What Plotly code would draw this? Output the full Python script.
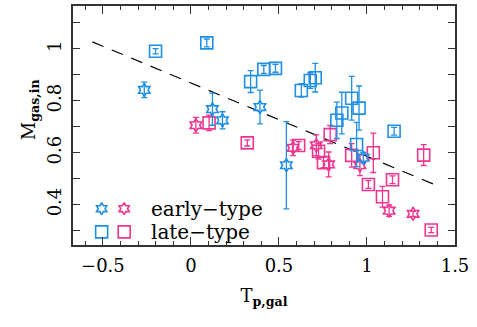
import plotly.graph_objects as go

BLUE = "#1f8fe6"
PINK = "#f0358f"

# early-type, blue (stars)
be_x = [-0.265, 0.122, 0.179, 0.392, 0.542, 0.979]
be_y = [0.842, 0.768, 0.725, 0.776, 0.552, 0.581]
be_e = [0.030, 0.062, 0.033, 0.065, 0.168, 0.020]

# late-type, blue (squares)
bl_x = [-0.201, 0.090, 0.339, 0.414, 0.480, 0.627, 0.678, 0.706, 0.829, 0.857, 0.913, 0.955, 0.941, 1.154]
bl_y = [0.991, 1.023, 0.874, 0.921, 0.925, 0.840, 0.878, 0.889, 0.725, 0.753, 0.810, 0.772, 0.632, 0.683]
bl_e = [0.010, 0.015, 0.042, 0.015, 0.015, 0.026, 0.030, 0.055, 0.070, 0.080, 0.084, 0.085, 0.085, 0.015]

# early-type, pink (stars)
pe_x = [0.028, 0.580, 0.712, 0.782, 0.960, 1.126, 1.262]
pe_y = [0.706, 0.619, 0.629, 0.555, 0.552, 0.377, 0.365]
pe_e = [0.030, 0.030, 0.040, 0.048, 0.040, 0.022, 0.010]

# late-type, pink (squares)
pl_x = [0.103, 0.320, 0.612, 0.725, 0.753, 0.791, 0.913, 1.036, 1.008, 1.145, 1.088, 1.322, 1.365]
pl_y = [0.715, 0.638, 0.628, 0.606, 0.562, 0.670, 0.590, 0.600, 0.478, 0.496, 0.431, 0.591, 0.303]
pl_e = [0.030, 0.012, 0.015, 0.030, 0.020, 0.035, 0.045, 0.076, 0.015, 0.015, 0.040, 0.040, 0.010]

# fitted relation (dashed line)
fit_x = [-0.56, 1.40]
fit_y = [1.027, 0.473]

x_ticks = [-0.5, 0, 0.5, 1, 1.5]
x_labels = ["\u22120.5", "0", "0.5", "1", "1.5"]
y_ticks = [0.4, 0.6, 0.8, 1.0]
y_labels = ["0.4", "0.6", "0.8", "1"]

fig = go.Figure()

fig.add_trace(go.Scatter(x=fit_x, y=fit_y, mode="lines",
                         line=dict(color="black", width=1.2, dash="12px,9px"),
                         showlegend=False, hoverinfo="skip"))


def add(xs, ys, es, color, symbol, size):
    fig.add_trace(go.Scatter(
        x=xs, y=ys, mode="markers",
        marker=dict(symbol=symbol, size=size, color=color,
                    line=dict(color=color, width=1.6)),
        error_y=dict(type="data", array=es, visible=True, color=color,
                     thickness=1.3, width=3),
        showlegend=False))


add(pl_x, pl_y, pl_e, PINK, "square-open", 12)
add(pe_x, pe_y, pe_e, PINK, "hexagram-open", 10)
add(bl_x, bl_y, bl_e, BLUE, "square-open", 12)
add(be_x, be_y, be_e, BLUE, "hexagram-open", 10)

# legend keys (on an overlay unit axis)
leg_x = [0.075, 0.134]
fig.add_trace(go.Scatter(x=leg_x, y=[0.152, 0.152], xaxis="x2", yaxis="y2", mode="markers",
                         marker=dict(symbol="hexagram-open", size=9, color=[BLUE, PINK],
                                     line=dict(color=[BLUE, PINK], width=1.6)),
                         showlegend=False, hoverinfo="skip"))
fig.add_trace(go.Scatter(x=leg_x, y=[0.055, 0.055], xaxis="x2", yaxis="y2", mode="markers",
                         marker=dict(symbol="square-open", size=12, color=[BLUE, PINK],
                                     line=dict(color=[BLUE, PINK], width=1.6)),
                         showlegend=False, hoverinfo="skip"))

FONT = "DejaVu Serif"
axcol = "#333333"

fig.update_layout(
    width=477, height=327,
    margin=dict(l=73, r=22, t=4, b=82),
    paper_bgcolor="white", plot_bgcolor="white",
    font=dict(family=FONT, size=18, color="black"),
    showlegend=False,
    xaxis=dict(range=[-0.67, 1.5], showgrid=False, zeroline=False,
               showline=True, linecolor=axcol, linewidth=1.5, mirror="allticks",
               ticks="inside", ticklen=8, tickwidth=1.2, tickcolor=axcol,
               tickmode="array", tickvals=x_ticks, ticktext=x_labels,
               ticklabelstandoff=4, tickfont=dict(size=18),
               minor=dict(dtick=0.1, tick0=0, ticks="inside", ticklen=4, tickwidth=1, tickcolor=axcol),
               title=dict(text="T<sub><b>p,gal</b></sub>", standoff=14, font=dict(size=18))),
    yaxis=dict(range=[0.245, 1.165], showgrid=False, zeroline=False,
               showline=True, linecolor=axcol, linewidth=1.5, mirror="allticks",
               ticks="inside", ticklen=7, tickwidth=1.2, tickcolor=axcol,
               tickmode="array", tickvals=y_ticks, ticktext=y_labels, tickangle=-90,
               ticklabelstandoff=3, tickfont=dict(size=18),
               minor=dict(dtick=0.1, tick0=0, ticks="inside", ticklen=7, tickwidth=1, tickcolor=axcol)),
    xaxis2=dict(overlaying="x", range=[0, 1], visible=False),
    yaxis2=dict(overlaying="y", range=[0, 1], visible=False),
    annotations=[
        dict(xref="paper", yref="paper", x=0.2, y=0.152, text="early\u2212type",
             showarrow=False, xanchor="left", yanchor="middle", font=dict(size=20, family=FONT)),
        dict(xref="paper", yref="paper", x=0.2, y=0.055, text="late\u2212type",
             showarrow=False, xanchor="left", yanchor="middle", font=dict(size=20, family=FONT)),
        dict(xref="paper", yref="paper", x=-0.112, y=0.565, text="M<sub><b>gas,in</b></sub>",
             textangle=-90, showarrow=False, xanchor="center", yanchor="middle",
             font=dict(size=18, family=FONT)),
    ],
)

fig.write_html("out.html", post_script="document.body.style.margin='0px';",
               config={"displayModeBar": False})
